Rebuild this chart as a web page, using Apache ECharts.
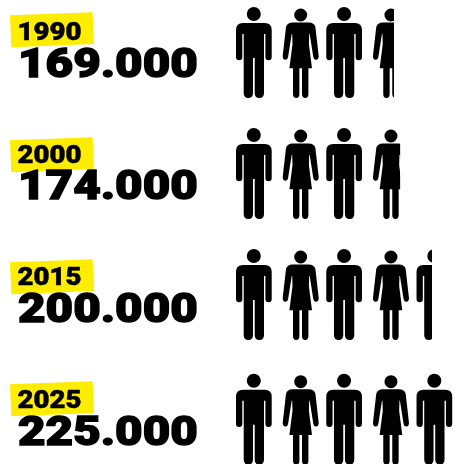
<!DOCTYPE html>
<html>
<head>
<meta charset="utf-8">
<style>html,body{margin:0;padding:0;background:#fff}#chart{width:455px;height:464px}</style>
<script src="https://cdn.jsdelivr.net/npm/echarts@6/dist/echarts.min.js"></script>
</head>
<body>
<div id="chart"></div>
<script>
// Population in thousands, one row of pictograms per year
const years = ['1990', '2000', '2015', '2025'];
const population = [169, 174, 200, 225];

// Vertical placement of each row's caption block and pictograms
const blockTops = [15.3, 140.3, 262.3, 384.3];
const yearBaselines = [40.7, 163.5, 286, 409];
const valueBaselines = [77.3, 200, 322.7, 445.7];
const rowNudge = [0, 0, 0, 3.7];

const circle = (cx, cy, r) =>
  `M${cx - r} ${cy}A${r} ${r} 0 1 1 ${cx + r} ${cy}A${r} ${r} 0 1 1 ${cx - r} ${cy}Z`;
const shiftX = (d, dx) =>
  d.replace(/(-?[\d.]+) (-?[\d.]+)/g, (_, x, y) => `${(+x + dx).toFixed(2)} ${y}`);

const manBody = 'M7 16L28.7 16Q35.7 16 35.7 23L35.7 50Q35.7 53.2 32.5 53.2Q29.4 53.2 29.4 50L29.4 27L28 27L28 86Q28 91 23.3 91Q18.7 91 18.7 86L18.7 51L17 51L17 86Q17 91 12.3 91Q7.7 91 7.7 86L7.7 27L6.3 27L6.3 50Q6.3 53.2 3.2 53.2Q0 53.2 0 50L0 23Q0 16 7 16Z';
const womanBody = 'M10 15.5L26 15.5Q31.5 15.5 32.7 20L36 49Q36 52.5 33.5 52.7Q31 53 30.6 50L27 27L26.5 27L26.2 37L29.3 61.3L25.7 61.3L25.7 87Q25.7 91 22.5 91Q19.3 91 19.3 87L19.3 61.3L16.7 61.3L16.7 87Q16.7 91 13.5 91Q10.3 91 10.3 87L10.3 61.3L6.7 61.3L9.8 37L9.5 27L9 27L5.4 50Q5 53 2.5 52.7Q0 52.5 0 49L3.3 20Q4.5 15.5 10 15.5Z';
const womanOffset = 46.7;

// One man and one woman side by side form the repeating unit
const personPair = 'path://' + circle(17.8, 7, 7) + manBody +
  circle(18 + womanOffset, 8, 6.5) + shiftX(womanBody, womanOffset);

const captions = [];
years.forEach((year, i) => {
  const top = blockTops[i];
  captions.push({
    type: 'polygon',
    shape: { points: [[10, top], [92.6, top - 3], [94, top + 28.8], [11.3, top + 32]] },
    style: { fill: '#ffed00' }
  });
  captions.push({
    type: 'text',
    x: 17.5, y: yearBaselines[i] - 21, scaleX: 1.04,
    style: {
      text: year, x: 0, y: 0,
      font: '900 26.5px Roboto', fill: '#000', stroke: '#000', lineWidth: 0.5
    }
  });
  captions.push({
    type: 'text',
    x: 18, y: valueBaselines[i] - 31.5, scaleX: 1.16,
    style: {
      text: population[i] + '.000', x: 0, y: 0,
      font: '900 41px Roboto', fill: '#000', stroke: '#000', lineWidth: 1.4
    }
  });
});

const chart = echarts.init(document.getElementById('chart'), null, { renderer: 'canvas' });
chart.setOption({
  animation: false,
  backgroundColor: '#fff',
  grid: { left: 187, right: -7.6, top: -8, height: 484, outerBoundsMode: 'none' },
  xAxis: { type: 'value', min: 0, max: 225, show: false },
  yAxis: { type: 'category', inverse: true, data: years, show: false },
  graphic: captions,
  series: [{
    type: 'pictorialBar',
    symbol: personPair,
    symbolSize: [82.7, 91],
    symbolRepeat: 3,
    symbolClip: true,
    symbolPosition: 'start',
    symbolBoundingData: 214.9,
    barCategoryGap: 0,
    itemStyle: { color: '#000' },
    data: population.map((v, i) => ({ value: v, symbolOffset: [49, rowNudge[i]] }))
  }]
});
</script>
</body>
</html>
